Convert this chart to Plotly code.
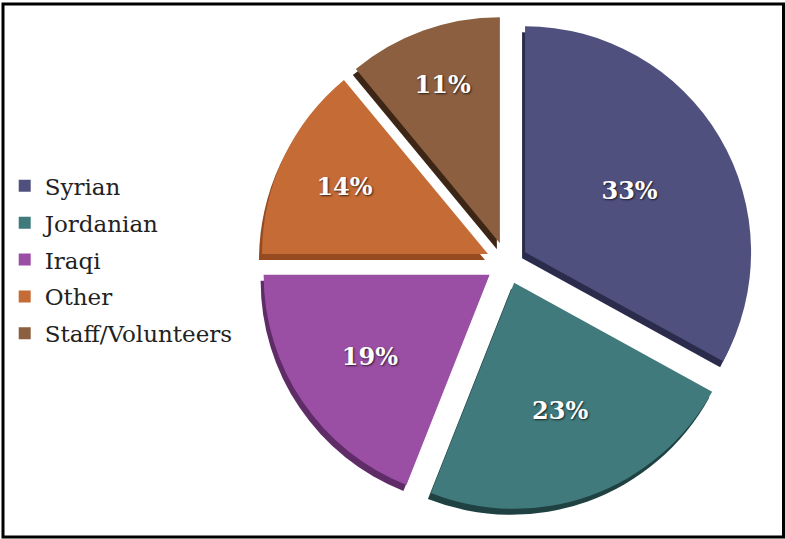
import plotly.graph_objects as go

# Share of participants by group
categories = ["Syrian", "Jordanian", "Iraqi", "Other", "Staff/Volunteers"]
shares = [33, 23, 19, 14, 11]

top_colors = ["#50507f", "#417a7c", "#9a4fa5", "#c56b36", "#8b5f40"]
side_colors = ["#2b2b4c", "#1f4142", "#5f2c67", "#954a20", "#3e2616"]

W, H = 785, 539
SERIF = "Georgia, 'DejaVu Serif', serif"

# pie box in pixels (square), plus the offset of the extruded "side"
box_left, box_top, box_size = 260, 16, 494
depth_dx, depth_dy = -3, 6
pull = 0.093


def domain(dx=0, dy=0):
    x0 = (box_left + dx) / W
    x1 = (box_left + box_size + dx) / W
    y1 = 1 - (box_top + dy) / H
    y0 = 1 - (box_top + box_size + dy) / H
    return dict(x=[x0, x1], y=[y0, y1])


fig = go.Figure()

# darker copy underneath gives the slices some thickness
fig.add_trace(go.Pie(
    labels=categories, values=shares, sort=False, direction="clockwise",
    rotation=0, pull=pull, domain=domain(depth_dx, depth_dy),
    marker=dict(colors=side_colors, line=dict(width=0)),
    textinfo="none", hoverinfo="skip", showlegend=False,
))

fig.add_trace(go.Pie(
    labels=categories, values=shares, sort=False, direction="clockwise",
    rotation=0, pull=pull, domain=domain(),
    marker=dict(colors=top_colors, line=dict(width=0)),
    textinfo="percent", textposition="inside",
    insidetextorientation="horizontal",
    textfont=dict(family=SERIF, size=24, color="white", weight="bold",
                  shadow="1px 1px 2px rgba(0,0,0,0.7)"),
    showlegend=False,
))

# legend entries
for name, col in zip(categories, top_colors):
    fig.add_trace(go.Scatter(
        x=[None], y=[None], mode="markers", name=name, legendgroup=name,
        marker=dict(symbol="square", size=12, color=col),
    ))

fig.update_layout(
    width=W, height=H,
    margin=dict(l=0, r=0, t=0, b=0),
    paper_bgcolor="white", plot_bgcolor="white",
    xaxis=dict(visible=False), yaxis=dict(visible=False),
    legend=dict(
        x=0.006, y=0.518, xanchor="left", yanchor="middle",
        font=dict(family=SERIF, size=23, color="#222222"),
        tracegroupgap=4, itemwidth=30,
    ),
    shapes=[dict(
        type="rect", xref="paper", yref="paper",
        x0=3 / W, x1=783.5 / W, y0=1 - 537 / H, y1=1 - 4 / H,
        line=dict(color="black", width=3),
    )],
)

fig.write_html("out.html")
